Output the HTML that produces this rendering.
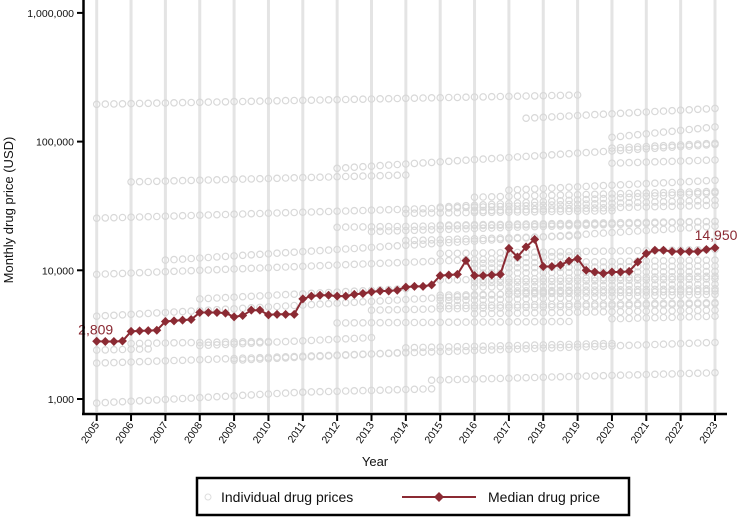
<!DOCTYPE html>
<html><head><meta charset="utf-8"><style>
html,body{margin:0;padding:0;background:#fff;}
svg{display:block;font-family:"Liberation Sans",Arial,sans-serif;}
</style></head><body>
<svg id="chart" width="739" height="518" viewBox="0 0 739 518" xmlns="http://www.w3.org/2000/svg">
<g id="grid"></g>
<g id="drugs"></g>
<g id="median"></g>
<g id="axes"></g>
<text transform="translate(13,210) rotate(-90)" text-anchor="middle" font-size="13" fill="#111">Monthly drug price (USD)</text>
<text x="375" y="466" text-anchor="middle" font-size="13" fill="#111">Year</text>
<g>
<rect x="197" y="478" width="432" height="37" fill="#fff" stroke="#000" stroke-width="2.5"/>
<circle cx="208" cy="497" r="3" fill="none" stroke="#ddd" stroke-width="1"/>
<text x="221" y="502" font-size="14" fill="#111">Individual drug prices</text>
<line x1="402" y1="497" x2="476" y2="497" stroke="#8b2a33" stroke-width="2"/>
<path d="M439 492 L444 497 L439 502 L434 497 Z" fill="#8b2a33"/>
<text x="488" y="502" font-size="14" fill="#111">Median drug price</text>
</g>
</svg>
<script>
const years = [2005,2006,2007,2008,2009,2010,2011,2012,2013,2014,2015,2016,2017,2018,2019,2020,2021,2022,2023];
const yTicks = [1000,10000,100000,1000000];
const yTickLabels = ["1,000","10,000","100,000","1,000,000"];
// quarterly median, 2005.00 .. 2023.00
const medianValues = [
2809,2800,2800,2820, 3350,3380,3400,3420, 4000,4050,4100,4150, 4700,4700,4700,4650,
4350,4450,4900,4900, 4500,4550,4550,4550, 6000,6300,6400,6400, 6300,6300,6500,6600,
6800,6900,6900,7000, 7400,7500,7500,7700, 9100,9200,9300,11900, 9100,9100,9200,9300,
14800,12700,15200,17400, 10700,10700,11000,11800, 12300,10000,9700,9450, 9700,9700,9800,11600,
13500,14300,14300,14000, 14000,14000,14000,14500, 14950];
// individual drug series: start year, end year, start price, end price
const drugStart = [2005,2006,2012,2005,2005,2007,2005,2005,2011,2014.75,2005,2006,2005,2008,2012,2014,2015,2017,2017.5,2020,2020,2020,2013,2016,2016,2015,2013,2020,2016,2015,2016,2014,2012,2014,2015,2015,2015,2016,2016,2015,2009,2008,2016,2017,2016];
const drugEnd   = [2019,2014,2023,2023,2019,2023,2023,2011,2014.75,2023,2019,2010,2006.5,2014,2018.75,2020,2023,2023,2023,2023,2023,2023,2023,2023,2023,2023,2023,2023,2023,2023,2023,2019,2020,2020,2023,2023,2023,2023,2023,2023,2014,2013,2023,2023,2023];
const drugP0    = [195000,48600,62000,25400,9300,12000,1900,930,1130,1400,4400,2700,2400,6000,3900,2500,31000,42000,152000,108000,89000,68000,20000,9500,7400,5800,4900,4200,11300,13500,37000,17000,21600,27700,8400,6400,5300,10400,29000,22400,2000,2600,8000,6900,4600];
const drugP1    = [230000,55000,95000,35000,13000,22000,2750,1130,1200,1600,7000,2800,2450,7200,4000,2700,40000,50000,181000,130000,97000,72000,24000,9800,7800,6500,5500,4400,12000,14500,41000,18500,23000,29000,9000,6900,5600,10800,32000,24000,2300,3000,8600,7200,4900];

const X0=96.7, X1=715, T0=2005, T1=2023;
const Y1000=399, PXDEC=128.7;
const xs = t => X0 + (t-T0)*(X1-X0)/(T1-T0);
const ys = v => Y1000 - (Math.log10(v)-3)*PXDEC;
const NS="http://www.w3.org/2000/svg";
function mk(tag, parent){ const e=document.createElementNS(NS,tag); parent.appendChild(e); return e; }

const grid=document.getElementById('grid');
years.forEach(y=>{
  const l=mk('line',grid);
  
  
  l.setAttribute('x1',xs(y));l.setAttribute('x2',xs(y));
  l.setAttribute('y1',0);l.setAttribute('y2',412);
  l.setAttribute('stroke','#e4e4e4');l.setAttribute('stroke-width','3');
});

const dg=document.getElementById('drugs');
for(let i=0;i<drugStart.length;i++){
  const a=drugStart[i], b=drugEnd[i];
  const n=Math.round((b-a)*4);
  for(let k=0;k<=n;k++){
    const t=a+k/4;
    const f=n?k/n:0;
    const lv=Math.log10(drugP0[i])+(Math.log10(drugP1[i])-Math.log10(drugP0[i]))*f;
    const c=mk('circle',dg);
    
    
    c.setAttribute('cx',xs(t).toFixed(1));c.setAttribute('cy',ys(Math.pow(10,lv)).toFixed(1));
    c.setAttribute('r','3.2');c.setAttribute('fill','none');
    c.setAttribute('stroke','#d8d8d8');c.setAttribute('stroke-width','1.2');
  }
}

const mg=document.getElementById('median');
const pts=medianValues.map((v,i)=>[xs(T0+i/4),ys(v)]);
const pl=mk('polyline',mg);


pl.setAttribute('points',pts.map(p=>p[0].toFixed(1)+','+p[1].toFixed(1)).join(' '));
pl.setAttribute('fill','none');pl.setAttribute('stroke','#8b2a33');pl.setAttribute('stroke-width','2');
pts.forEach(p=>{
  const d=mk('path',mg);
  
  
  const r=4.5;
  d.setAttribute('d',`M${p[0]} ${p[1]-r} L${p[0]+r} ${p[1]} L${p[0]} ${p[1]+r} L${p[0]-r} ${p[1]} Z`);
  d.setAttribute('fill','#8b2a33');
});
const lab0=mk('text',mg);


lab0.setAttribute('x',xs(T0)-1);lab0.setAttribute('y',ys(medianValues[0])-7);
lab0.setAttribute('text-anchor','middle');lab0.setAttribute('font-size','14');lab0.setAttribute('fill','#8b2a33');
lab0.textContent=medianValues[0].toLocaleString('en-US');
const lab1=mk('text',mg);


lab1.setAttribute('x',xs(T1)+1);lab1.setAttribute('y',ys(medianValues[medianValues.length-1])-8);
lab1.setAttribute('text-anchor','middle');lab1.setAttribute('font-size','14');lab1.setAttribute('fill','#8b2a33');
lab1.textContent=medianValues[medianValues.length-1].toLocaleString('en-US');

const ax=document.getElementById('axes');
const ya=mk('line',ax);


ya.setAttribute('x1',83.5);ya.setAttribute('x2',83.5);ya.setAttribute('y1',0);ya.setAttribute('y2',415);
ya.setAttribute('stroke','#000');ya.setAttribute('stroke-width','2.5');
const xa=mk('line',ax);


xa.setAttribute('x1',82);xa.setAttribute('x2',727);xa.setAttribute('y1',414);xa.setAttribute('y2',414);
xa.setAttribute('stroke','#000');xa.setAttribute('stroke-width','2.5');
yTicks.forEach((v,i)=>{
  const t=mk('line',ax);
  
  
  t.setAttribute('x1',77);t.setAttribute('x2',83);t.setAttribute('y1',ys(v));t.setAttribute('y2',ys(v));
  t.setAttribute('stroke','#000');t.setAttribute('stroke-width','2');
  const tx=mk('text',ax);
  
  
  tx.setAttribute('x',74);tx.setAttribute('y',ys(v)+4);tx.setAttribute('text-anchor','end');
  tx.setAttribute('font-size','10.5');tx.setAttribute('fill','#111');
  tx.textContent=yTickLabels[i];
});
years.forEach(y=>{
  const x=xs(y);
  const t=mk('line',ax);
  
  
  t.setAttribute('x1',x);t.setAttribute('x2',x);t.setAttribute('y1',414);t.setAttribute('y2',421);
  t.setAttribute('stroke','#000');t.setAttribute('stroke-width','2');
  const tx=mk('text',ax);
  
  
  tx.setAttribute('transform',`translate(${x+3},${425}) rotate(-55)`);
  tx.setAttribute('text-anchor','end');tx.setAttribute('font-size','10.5');tx.setAttribute('fill','#111');
  tx.textContent=y;
});
</script>
</body></html>
